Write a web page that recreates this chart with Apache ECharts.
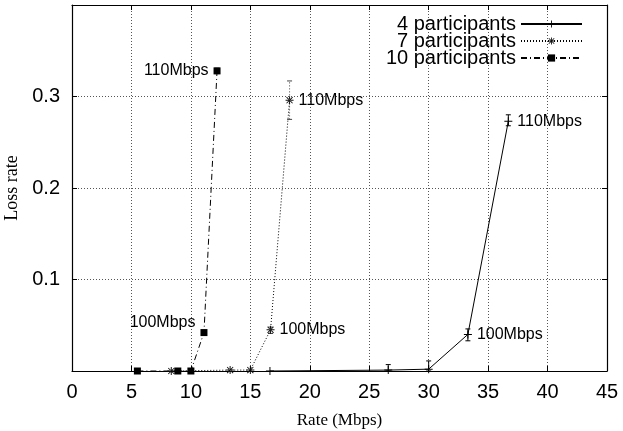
<!DOCTYPE html>
<html>
<head>
<meta charset="utf-8">
<script src="https://cdn.jsdelivr.net/npm/echarts@6/dist/echarts.min.js"></script>
<style>
  html, body { margin: 0; padding: 0; background: #fff; }
  #chart { width: 623px; height: 431px; }
</style>
</head>
<body>
<div id="chart"></div>
<script>
// rate (Mbps) / loss rate per group
var rate4 = [16.65, 26.6, 30.0, 33.3, 36.7];
var loss4 = [0, 0.001, 0.002, 0.040, 0.273];
var tag4 = ['', '', '', '100Mbps', '110Mbps'];

var rate7 = [8.35, 13.3, 15.0, 16.7, 18.3];
var loss7 = [0, 0.001, 0.001, 0.045, 0.296];
var tag7 = ['', '', '', '100Mbps', '110Mbps'];

var rate10 = [5.5, 8.9, 10.0, 11.1, 12.2];
var loss10 = [0, 0, 0, 0.042, 0.328];
var tag10 = ['', '', '', '100Mbps', '110Mbps'];

// error bars: [rate, low, high]
var err4 = [[26.6, 0, 0.007], [30.0, 0, 0.011], [33.3, 0.033, 0.046], [36.7, 0.268, 0.280]];
var err7 = [[16.7, 0.041, 0.048], [18.3, 0.275, 0.317]];
var err10 = [[12.2, 0.325, 0.331]];

var xTicks = [0, 5, 10, 15, 20, 25, 30, 35, 40, 45];

var plusPath = 'path://M-0.6,-5H0.6V5H-0.6Z M-5,-0.6H5V0.6H-5Z';
var starPath = 'path://M-0.6,-5H0.6V5H-0.6Z M-5,-0.6H5V0.6H-5Z M-4.2,-3.4L3.4,4.2L4.2,3.4L-3.4,-4.2Z M-4.2,3.4L3.4,-4.2L4.2,-3.4L-3.4,4.2Z';

function points(xs, ys, tags, pos, offset) {
    return xs.map(function (x, i) {
        var item = { value: [x, ys[i]] };
        if (tags[i]) {
            item.label = {
                show: true,
                formatter: tags[i],
                position: pos,
                distance: 5,
                offset: (i === 3 && offset) ? offset : [0, 0],
                fontFamily: 'Liberation Sans',
                fontSize: 16,
                color: '#000'
            };
        }
        return item;
    });
}

function errSeries(data, dash, color) {
    return {
        type: 'custom',
        data: data,
        encode: { x: 0, y: [1, 2] },
        silent: true,
        z: 1,
        renderItem: function (params, api) {
            var x = api.value(0);
            var a = api.coord([x, api.value(1)]);
            var b = api.coord([x, api.value(2)]);
            var st = { stroke: color, lineWidth: 1, lineDash: dash };
            return {
                type: 'group',
                children: [
                    { type: 'line', shape: { x1: a[0], y1: a[1], x2: b[0], y2: b[1] }, style: st },
                    { type: 'line', shape: { x1: a[0] - 2.5, y1: a[1], x2: a[0] + 2.5, y2: a[1] }, style: { stroke: color, lineWidth: 1 } },
                    { type: 'line', shape: { x1: b[0] - 2.5, y1: b[1], x2: b[0] + 2.5, y2: b[1] }, style: { stroke: color, lineWidth: 1 } }
                ]
            };
        }
    };
}

var chart = echarts.init(document.getElementById('chart'));
var option = {
    backgroundColor: '#fff',
    animation: false,
    grid: { left: 72, right: 16, top: 5, bottom: 60, containLabel: false, outerBoundsMode: 'none' },
    legend: {
        orient: 'vertical',
        align: 'right',
        right: 35,
        top: 9,
        itemWidth: 61,
        itemHeight: 9,
        itemGap: -3,
        data: ['4 participants', '7 participants', '10 participants'],
        textStyle: { fontFamily: 'Liberation Sans', fontSize: 20, color: '#000', padding: [0, 0, 0, 0] }
    },
    xAxis: [{
        type: 'value',
        min: 0, max: 45, interval: 5,
        name: 'Rate (Mbps)',
        nameLocation: 'middle',
        nameGap: 41,
        nameTextStyle: { fontFamily: 'Liberation Serif', fontSize: 17, color: '#000' },
        axisLine: { show: true, onZero: false, lineStyle: { color: '#000', width: 1.2 } },
        axisTick: { inside: true, length: 5, lineStyle: { color: '#000' } },
        axisLabel: { margin: 11, fontFamily: 'Liberation Sans', fontSize: 20, color: '#000',
            formatter: function (v) { return xTicks.indexOf(v) >= 0 ? String(v) : ''; } },
        splitLine: { show: true, lineStyle: { color: '#555', type: [1, 2], width: 1 } }
    }, {
        type: 'value',
        position: 'top',
        min: 0, max: 45, interval: 5,
        axisLine: { show: true, onZero: false, lineStyle: { color: '#000', width: 1.2 } },
        axisTick: { show: true, inside: true, length: 5, lineStyle: { color: '#000' } },
        axisLabel: { show: false },
        splitLine: { show: false }
    }],
    yAxis: [{
        type: 'value',
        min: 0, max: 0.4, interval: 0.1,
        name: 'Loss rate',
        nameLocation: 'middle',
        nameGap: 47,
        nameTextStyle: { fontFamily: 'Liberation Serif', fontSize: 18, color: '#000' },
        axisLine: { show: true, onZero: false, lineStyle: { color: '#000', width: 1.2 } },
        axisTick: { show: true, inside: true, length: 5, lineStyle: { color: '#000' } },
        axisLabel: { margin: 12, fontFamily: 'Liberation Sans', fontSize: 20, color: '#000',
            formatter: function (v) { return (v > 0.05 && v < 0.35) ? v.toFixed(1) : ''; } },
        splitLine: { show: true, lineStyle: { color: '#555', type: [1, 2], width: 1 } }
    }, {
        type: 'value',
        position: 'right',
        min: 0, max: 0.4, interval: 0.1,
        axisLine: { show: true, onZero: false, lineStyle: { color: '#000', width: 1.2 } },
        axisTick: { show: true, inside: true, length: 5, lineStyle: { color: '#000' } },
        axisLabel: { show: false },
        splitLine: { show: false }
    }],
    series: [
        errSeries(err4, null, '#000'),
        errSeries(err7, [1, 2], '#444'),
        errSeries(err10, [1, 2], '#333'),
        {
            name: '4 participants',
            type: 'line',
            data: points(rate4, loss4, tag4, 'right'),
            symbol: plusPath,
            symbolSize: 8,
            itemStyle: { color: '#000' },
            lineStyle: { color: '#000', width: 1, type: 'solid' },
            z: 3
        },
        {
            name: '7 participants',
            type: 'line',
            data: points(rate7, loss7, tag7, 'right'),
            symbol: starPath,
            symbolSize: 8,
            itemStyle: { color: '#111' },
            lineStyle: { color: '#000', width: 1, type: [1, 2] },
            z: 3
        },
        {
            name: '10 participants',
            type: 'line',
            data: points(rate10, loss10, tag10, 'left', [0, -10]),
            symbol: 'rect',
            symbolSize: 7,
            itemStyle: { color: '#000' },
            lineStyle: { color: '#000', width: 1, type: [6, 3, 1, 3] },
            z: 3
        }
    ]
};
chart.setOption(option);
</script>
</body>
</html>
